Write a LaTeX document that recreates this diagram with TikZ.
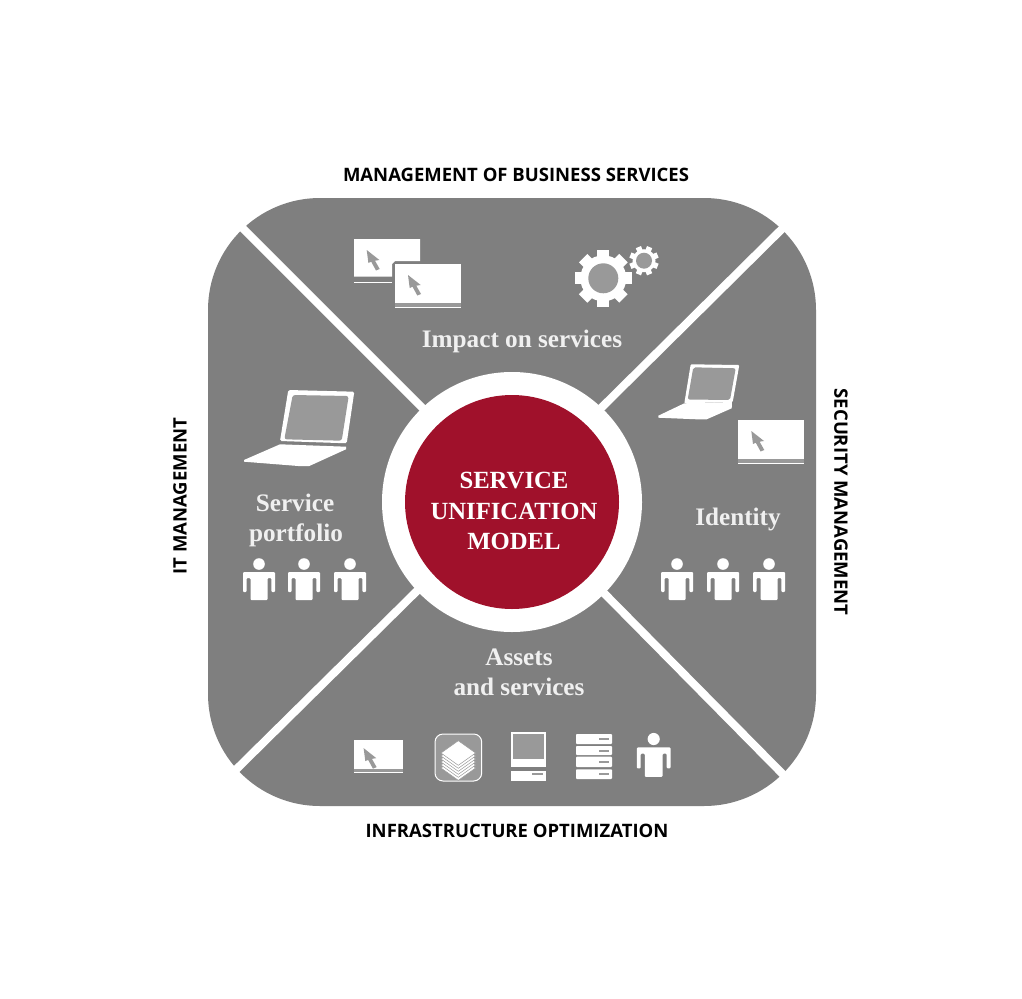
\documentclass[tikz,border=0pt]{standalone}
\usepackage{fontspec}
\setmainfont{Liberation Serif}
\newfontfamily\capfont{Open Sans}
\definecolor{panel}{HTML}{7F7F7F}
\definecolor{soft}{HTML}{999999}
\definecolor{wine}{HTML}{A0112B}
\definecolor{pale}{HTML}{F0F0F0}
\tikzset{
  x=1pt,y=-1pt,
  captext/.style={font=\capfont\fontsize{18.5}{22}\selectfont\bfseries,text=black,inner sep=0pt},
  paneltext/.style={font=\fontsize{25.2}{30}\selectfont\bfseries,text=pale,align=center,inner sep=0pt},
  hubtext/.style={font=\fontsize{24.7}{30}\selectfont\bfseries,text=white,align=center,inner sep=0pt},
  cutline/.style={draw=white,line width=8pt},
  pics/personicon/.style={code={
    \fill[white] (0,0) circle[radius=5.8];
    \fill[white,rounded corners=1pt] (-16,8) -- (16,8) -- (16,28) -- (12.4,28) -- (12.4,14) -- (8.5,14) -- (8.5,36) -- (-8.5,36) -- (-8.5,14) -- (-12.4,14) -- (-12.4,28) -- (-16,28) -- cycle;
  }},
  pics/cursoricon/.style={code={
    \fill[soft] (0,0) -- (12.7,10) -- (8.3,10.7) -- (13,19) -- (9.3,20.5) -- (4.5,11.7) -- (1.7,13) -- cycle;
  }},
  pics/windowicon/.style={code={
    \fill[white] (0,0) rectangle (66,38.5);
    \fill[soft] (0,38.5) rectangle (66,43);
    \draw[white,line width=0.4pt] (0,43) -- (66,43);
    \pic at (13,11) {cursoricon};
  }},
  pics/gearicon/.style args={#1/#2/#3/#4/#5}{code={
    \foreach \a in {0,45,...,315}{
      \fill[white,rotate=\a+#4] (-#5,0) rectangle (#5,-#1);
    }
    \fill[white] (0,0) circle[radius=#2];
    \fill[soft] (0,0) circle[radius=#3];
  }}
}
\begin{document}
\begin{tikzpicture}
\useasboundingbox (0,0) rectangle (1022,998);
\fill[white] (0,0) rectangle (1022,998);
% main rounded panel
\fill[panel,rounded corners=112pt] (208,198) rectangle (816,806);
\draw[cutline] (235,220.5) -- (430,415.5);
\draw[cutline] (790,221) -- (594,415);
\draw[cutline] (228.8,776.7) -- (425,583);
\draw[cutline] (790,781.5) -- (597,586);
\fill[white] (512,502) circle[radius=130];
\node[circle,fill=wine,minimum size=214pt,inner sep=0pt] (hub) at (512,502) {};
\node[hubtext] (hubA) at (514,481) {SERVICE};
\node[hubtext] (hubB) at (514,511) {UNIFICATION};
\node[hubtext] (hubC) at (514,541) {MODEL};
% outer captions
\node[captext] (capTop) at (516,174.5) {MANAGEMENT OF BUSINESS SERVICES};
\node[captext] (capBottom) at (517,830.5) {INFRASTRUCTURE OPTIMIZATION};
\node[captext,rotate=90] (capLeft) at (180,496) {IT MANAGEMENT};
\node[captext,rotate=-90] (capRight) at (841,502) {SECURITY MANAGEMENT};
% panel captions
\node[paneltext] (impact) at (522,341) {Impact on services};
\node[paneltext] (portfolioA) at (295,503) {Service};
\node[paneltext] (portfolioB) at (296,535) {portfolio};
\node[paneltext] (identity) at (738,519) {Identity};
\node[paneltext] (assetsA) at (519,657) {Assets};
\node[paneltext] (assetsB) at (519,686.5) {and services};
% top icons
\fill[white] (354,239) -- (420,239) -- (420,261) -- (395,261) -- (392,264) -- (392,276.7) -- (354,276.7) -- cycle;
\draw[white,line width=0.8pt] (354,282.3) -- (392,282.3);
\pic at (366.7,250) {cursoricon};
\pic at (395,264) {windowicon};
\pic at (603.3,278.3) {gearicon={28.5/23/15/0/6}};
\pic at (644,260.7) {gearicon={14.7/11.5/8/22.5/2.8}};
% left laptop
\fill[white,rounded corners=1.5pt] (288.3,390) -- (354.3,391.7) -- (346.7,443.3) -- (280,441) -- cycle;
\fill[soft,rounded corners=2.5pt] (292.7,395) -- (348.7,396) -- (341.7,440.7) -- (284.3,439.3) -- cycle;
\fill[white] (280,444.3) -- (346,446.7) -- (346,449.3) -- (309.3,466) -- (298.3,466) -- (244,461.7) -- (244,460) -- cycle;
% right laptop
\fill[white,rounded corners=1pt] (690.7,364.3) -- (739.3,365) -- (732.7,402) -- (684.3,403.3) -- cycle;
\fill[soft,rounded corners=2pt] (693.3,367.3) -- (735.7,368.3) -- (730,400) -- (687.7,399.5) -- cycle;
\fill[white] (684.3,403.3) -- (732,402) -- (731.7,408.3) -- (706.7,419.3) -- (696.7,419.3) -- (658.3,417.7) -- (658.3,415.7) -- cycle;
\pic at (738.3,420) {windowicon};
% people
\foreach \px in {259,304,350}{\pic at (\px,564) {personicon};}
\foreach \px in {677,723,769}{\pic at (\px,564) {personicon};}
% bottom icons
\pic[scale=0.74] at (354,740) {windowicon};
\draw[white,fill=soft,line width=1pt,rounded corners=8pt] (435,734) rectangle (481.7,781);
\foreach \dy in {15,12,9,6,3,0}{
  \fill[white,draw=soft,line width=0.5pt] (458.3,740.7+\dy) -- (475.6,753+\dy) -- (458.3,765.3+\dy) -- (441,753+\dy) -- cycle;
}
\fill[white] (511,732.3) rectangle (546,766.7);
\fill[soft] (513.3,734.3) rectangle (543.7,759);
\fill[white] (511,771) rectangle (546,781);
\fill[soft] (532.3,773.3) rectangle (543.3,775.3);
\foreach \ya/\yb in {734/744,746/755,756.7/767,769.3/779}{
  \fill[white,rounded corners=0.8pt] (576,\ya) rectangle (612,\yb);
  \fill[soft] (599.3,{(\ya+\yb)/2-1}) rectangle (608.7,{(\ya+\yb)/2+1});
}
\pic[scale=1.05] at (653.7,739) {personicon};
\end{tikzpicture}
\end{document}
